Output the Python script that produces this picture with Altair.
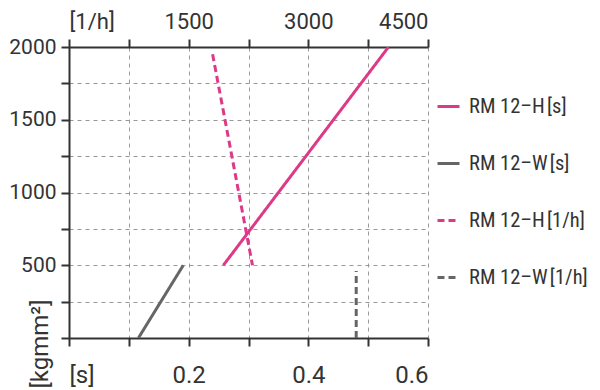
import altair as alt
import pandas as pd

FONT = "Roboto, sans-serif"
LFONT = "Liberation Sans Narrow, Roboto Condensed, Roboto, sans-serif"

series = ["RM 12–H\u200a[s]", "RM 12–W\u200a[s]", "RM 12–H\u200a[1/h]", "RM 12–W\u200a[1/h]"]
colors = ["#dc3a87", "#666666", "#dc3a87", "#666666"]
dashes = [[1, 0], [1, 0], [7, 4], [7, 4]]

# [s] series (bottom axis)
hs_x = [0.258, 0.534]
hs_y = [500, 2000]
ws_x = [0.116, 0.191]
ws_y = [0, 500]
# [1/h] series (top axis)
hh_x = [1800, 2300]
hh_y = [1950, 500]
wh_x = [3600, 3600]
wh_y = [0, 460]

s_ticks = [0, 0.1, 0.2, 0.3, 0.4, 0.5, 0.6]
h_ticks = [0, 750, 1500, 2250, 3000, 3750, 4500]
y_ticks = [0, 250, 500, 750, 1000, 1250, 1500, 1750, 2000]

df_s = pd.DataFrame({
    "series": [series[0]] * len(hs_x) + [series[1]] * len(ws_x),
    "x": hs_x + ws_x,
    "y": hs_y + ws_y,
})
df_h = pd.DataFrame({
    "series": [series[2]] * len(hh_x) + [series[3]] * len(wh_x),
    "x": hh_x + wh_x,
    "y": hh_y + wh_y,
})

AX = dict(labelFont=FONT, labelColor="#333333",
          domainColor="#333333", domainWidth=2, tickColor="#333333",
          tickWidth=2, tickSize=8, titleFont=FONT)

legend = alt.Legend(title=None, orient="none", legendX=367, legendY=47,
                    symbolType="stroke", symbolSize=484, symbolStrokeWidth=3,
                    labelFont=LFONT, labelFontSize=20.5, labelColor="#333333",
                    rowPadding=34, labelOffset=8)

color = alt.Color("series:N", scale=alt.Scale(domain=series, range=colors), legend=legend)
dash = alt.StrokeDash("series:N", scale=alt.Scale(domain=series, range=dashes), legend=legend)

y_enc = alt.Y("y:Q", scale=alt.Scale(domain=[0, 2000], nice=False),
              axis=alt.Axis(values=y_ticks, grid=True, gridDash=[4, 4], gridColor="#999999",
                            gridWidth=1, labelPadding=5, labelFontSize=21, format="d",
                            labelExpr="datum.value >= 500 && datum.value % 500 == 0 ? datum.label : ''",
                            title="[kgmm²]", titleFontSize=24, titleFontWeight="normal",
                            titleColor="#333333", titleAngle=270, titleAlign="left",
                            titleBaseline="middle", titleX=-29, titleY=341, **AX))

layer_s = alt.Chart(df_s).mark_line(strokeWidth=3, clip=True).encode(
    x=alt.X("x:Q", scale=alt.Scale(domain=[0, 0.6], nice=False),
            axis=alt.Axis(orient="bottom", values=s_ticks, grid=True, gridDash=[4, 4],
                          gridColor="#999999", gridWidth=1, title=None, labelPadding=17,
                          labelFontSize=24,
                          labelExpr="datum.value == 0 ? '[s]' : (round(datum.value*10) % 2 == 0 ? format(datum.value, '.1f') : '')",
                          **AX)),
    y=y_enc, color=color, strokeDash=dash,
)

layer_h = alt.Chart(df_h).mark_line(strokeWidth=3, clip=True).encode(
    x=alt.X("x:Q", scale=alt.Scale(domain=[0, 4500], nice=False),
            axis=alt.Axis(orient="top", values=h_ticks, grid=False, title=None, labelPadding=6,
                          labelFontSize=22,
                          labelExpr="datum.value == 0 ? '[1/h]' : (datum.value % 1500 == 0 ? datum.label : '')",
                          format="d", **AX)),
    y=y_enc, color=color, strokeDash=dash,
)

chart = alt.layer(layer_s, layer_h).resolve_scale(x="independent").resolve_axis(x="independent").properties(
    width=359, height=291,
    autosize=alt.AutoSizeParams(type="none"),
    padding={"left": 61, "top": 39, "right": 164, "bottom": 52},
).configure_view(stroke=None)

chart.save("out.html", embed_options={"renderer": "svg", "actions": False})
